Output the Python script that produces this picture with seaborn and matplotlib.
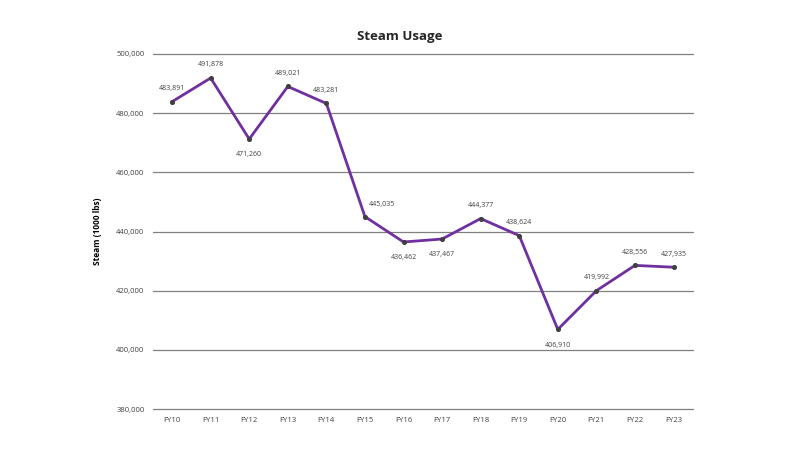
import matplotlib
matplotlib.use("Agg")
import matplotlib.pyplot as plt
import seaborn as sns
import pandas as pd

years = ["FY10", "FY11", "FY12", "FY13", "FY14", "FY15", "FY16", "FY17",
         "FY18", "FY19", "FY20", "FY21", "FY22", "FY23"]
steam = [483891, 491878, 471260, 489021, 483281, 445035, 436462, 437467,
         444377, 438624, 406910, 419992, 428556, 427935]
below = {"FY12", "FY16", "FY17", "FY20"}

sns.set_theme(style="white")
plt.rcParams['font.family'] = ['Open Sans', 'DejaVu Sans']

df = pd.DataFrame({"year": years, "steam": steam})
fig = plt.figure(figsize=(8, 4.5), dpi=100)
ax = fig.add_axes([0.191, 0.091, 0.675, 0.789])

sns.lineplot(data=df, x="year", y="steam", ax=ax, color="#7030A0",
             linewidth=2, sort=False, zorder=3)
ax.scatter(range(len(years)), steam, s=7, color="#404040", zorder=4)

ax.set_xlim(-0.5, len(years) - 0.5)
ax.set_ylim(380000, 500000)
ax.set_yticks(range(380000, 500001, 20000))
ax.set_yticklabels([f"{v:,}" for v in range(380000, 500001, 20000)])
ax.yaxis.grid(True, color="#808080", linewidth=0.9)
for gl in ax.yaxis.get_gridlines():
    gl.set_clip_on(False)
ax.set_axisbelow(True)
for s in ax.spines.values():
    s.set_visible(False)
ax.tick_params(axis="both", labelsize=5.5, colors="#404040", length=0, pad=6)
ax.set_xlabel("")
ax.set_ylabel("Steam (1000 lbs)", fontsize=6, fontweight="bold", color="#000000", labelpad=10)
ax.set_title("Steam Usage", fontsize=9.5, fontweight="bold", pad=10, x=0.458)

for i, (y, v) in enumerate(zip(years, steam)):
    if y in below:
        off = (0, -14)
    elif y == "FY15":
        off = (12, 6)
    else:
        off = (0, 7)
    ax.annotate(f"{v:,}", (i, v), textcoords="offset points", xytext=off,
                ha="center", va="bottom",
                fontsize=5, color="#404040")

fig.savefig("out.png", dpi=100)
